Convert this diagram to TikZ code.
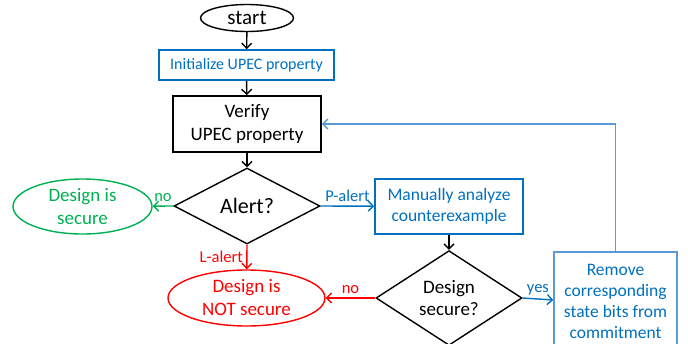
\documentclass[tikz,border=0pt]{standalone}
\usepackage{fontspec}
\setmainfont{Carlito}
\usetikzlibrary{shapes.geometric,arrows.meta}
\definecolor{blueT}{HTML}{0070C0}
\definecolor{blueL}{HTML}{5B9BD5}
\definecolor{greenT}{HTML}{00B050}
\definecolor{redT}{HTML}{FF0000}
\begin{document}
\begin{tikzpicture}[x=1pt,y=-1pt,
 box/.style={draw,line width=1.6pt,inner sep=0pt,align=center},
 ell/.style={ellipse,draw,line width=1.4pt,inner sep=0pt,align=center},
 dia/.style={diamond,draw,line width=1.4pt,inner sep=0pt,align=center},
 arr/.style={line width=1.4pt,-{Straight Barb[length=5pt,width=10pt]}},
 lab/.style={font=\fontsize{16.5}{19}\selectfont}]
\clip (0,0) rectangle (688,343);
\useasboundingbox (0,0) rectangle (688,343);
\node[ell,minimum width=93pt,minimum height=27pt,font=\fontsize{21}{24}\selectfont] (start) at (247,18) {start};
\node[box,draw=blueT,text=blueT,minimum width=175pt,minimum height=30pt,font=\fontsize{16}{19}\selectfont] (init) at (246.5,65) {Initialize UPEC property};
\node[box,minimum width=148pt,minimum height=56pt,font=\fontsize{19}{23}\selectfont] (verify) at (247,124) {Verify\\UPEC property};
\node[dia,minimum width=146pt,minimum height=76pt,font=\fontsize{22}{26}\selectfont] (alert) at (247,206) {Alert?};
\node[ell,draw=greenT,text=greenT,minimum width=139pt,minimum height=55pt,font=\fontsize{19}{23}\selectfont] (sec) at (82.5,206.5) {Design is\\secure};
\node[ell,draw=redT,text=redT,minimum width=157pt,minimum height=56pt,font=\fontsize{19}{23}\selectfont] (notsec) at (246.5,298) {Design is\\NOT secure};
\node[box,draw=blueT,text=blueT,minimum width=148pt,minimum height=55pt,font=\fontsize{17.5}{21}\selectfont] (man) at (449,206.5) {Manually analyze\\counterexample};
\node[dia,minimum width=146pt,minimum height=74pt,font=\fontsize{19}{22}\selectfont] (dsec) at (449,298) {Design\\secure?};
\node[box,draw=blueL,minimum width=123pt,minimum height=104pt] (rem) at (615.5,304) {};
\node[text=blueT,inner sep=0pt,align=center,font=\fontsize{17.5}{21}\selectfont] (remtxt) at (615.5,301.5) {Remove\\corresponding\\state bits from\\commitment};
\draw[arr] (start) -- (init);
\draw[arr] (init) -- (verify);
\draw[arr] (verify) -- (alert);
\draw[arr,greenT] (alert.west) -- node[lab,above,text=greenT]{no} (sec);
\draw[arr,redT] (alert.south) -- node[lab,left,text=redT]{L-alert} (notsec);
\draw[arr,blueT] (alert.east) -- node[lab,above,text=blueT]{P-alert} (man);
\draw[arr] (man) -- (dsec);
\draw[arr,redT] (dsec.west) -- node[lab,above,text=redT]{no} (notsec);
\draw[arr,blueT] (dsec.east) -- node[lab,above,text=blueT]{yes} (rem);
\draw[arr,blueL] (rem.north) |- (verify.east);
\end{tikzpicture}
\end{document}
